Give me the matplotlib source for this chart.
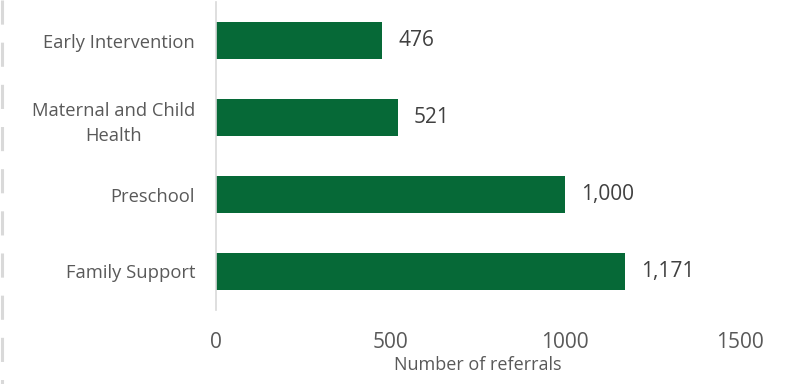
import matplotlib.pyplot as plt
from matplotlib.lines import Line2D

# referral counts by service
services = ['Early Intervention', 'Maternal and Child\nHealth', 'Preschool', 'Family Support']
referrals = [476, 521, 1000, 1171]

bar_color = '#066937'
text_color = '#595959'

plt.rcParams['font.family'] = ['Open Sans', 'DejaVu Sans']

fig = plt.figure(figsize=(7.86, 3.84), dpi=100)
ax = fig.add_axes([216 / 786, 1 - 310 / 384, (740 - 216) / 786, 308 / 384])

pos = list(range(len(services)))
ax.barh(pos, referrals, height=0.49, color=bar_color)
ax.set_ylim(3.5, -0.5)
ax.set_xlim(0, 1500)
ax.set_xticks([0, 500, 1000, 1500])
ax.set_yticks(pos)
ax.set_yticklabels(services, fontsize=13.2, color=text_color,
                   multialignment='center', linespacing=1.55)
ax.tick_params(axis='y', length=0, pad=15)
ax.tick_params(axis='x', length=0, labelsize=15, labelcolor=text_color, pad=16)

for s in ['top', 'right', 'bottom']:
    ax.spines[s].set_visible(False)
ax.spines['left'].set_color('#d9d9d9')
ax.spines['left'].set_linewidth(1.2)

for y, v in zip(pos, referrals):
    ax.text(v + 45, y, f'{v:,}', va='center', ha='left', fontsize=15, color='#404040')

ax.set_xlabel('Number of referrals', fontsize=13, color=text_color, labelpad=2)

# dashed border on the left edge
fig.add_artist(Line2D([2 / 786, 2 / 786], [1, 0], transform=fig.transFigure,
                      color='#d9d9d9', linewidth=2.2, dashes=(7.9, 5.9)))

fig.savefig('out.png', dpi=100)
